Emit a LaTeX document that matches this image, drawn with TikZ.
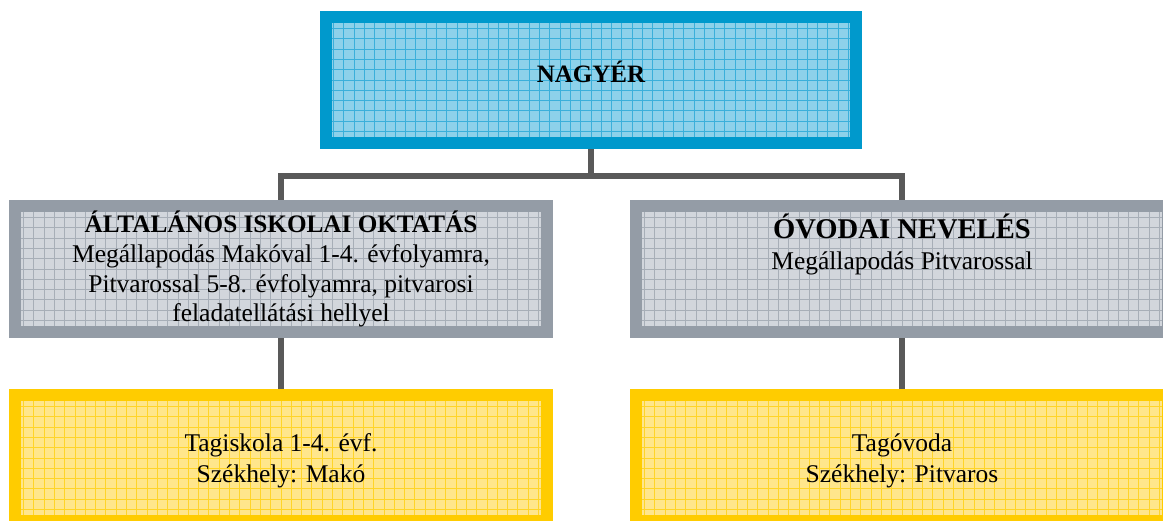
\documentclass[tikz,border=0pt]{standalone}
\usepackage{fontspec}
\setmainfont{Liberation Serif}
\definecolor{bluebd}{HTML}{0099CC}
\definecolor{bluefill}{HTML}{8DD1EA}
\definecolor{bluegrid}{HTML}{3AAFDA}
\definecolor{graybd}{HTML}{949CA6}
\definecolor{grayfill}{HTML}{D2D6DC}
\definecolor{graygrid}{HTML}{A7AEB7}
\definecolor{yelbd}{HTML}{FFCC00}
\definecolor{yelfill}{HTML}{FFE68C}
\definecolor{yelgrid}{HTML}{FFD429}
\definecolor{conn}{HTML}{595959}
\pgfdeclarelayer{background}
\pgfsetlayers{background,main}
\tikzset{
  gridbox/.style n args={3}{draw=#1, fill=#2, line width=12pt, minimum width=532pt, minimum height=126pt, inner sep=0pt,
    path picture={\draw[#3, line width=0.9pt, step=10.3pt] (path picture bounding box.south west) grid (path picture bounding box.north east);}},
  bluebox/.style={gridbox={bluebd}{bluefill}{bluegrid}, minimum width=530pt},
  graybox/.style={gridbox={graybd}{grayfill}{graygrid}},
  yelbox/.style={gridbox={yelbd}{yelfill}{yelgrid}},
  txt/.style={anchor=base, inner sep=0pt, font=\fontsize{25.5}{30}\selectfont},
  connector/.style={conn, line width=6pt},
}
\begin{document}
\begin{tikzpicture}[x=1pt, y=-1pt]
\useasboundingbox (0,0) rectangle (1163,520);
\clip (0,0) rectangle (1163,520);
\node[bluebox] (top) at (591,80) {};
\node[graybox] (gl) at (281,269) {};
\node[graybox] (gr) at (902,269) {};
\node[yelbox] (yl) at (281,458) {};
\node[yelbox] (yr) at (902,458) {};
\coordinate (hj) at (591,176);
\begin{pgfonlayer}{background}
\draw[connector] (top.center) -- (hj);
\draw[connector] (gl.center) |- (hj) -| (gr.center);
\draw[connector] (gl.center) -- (yl.center);
\draw[connector] (gr.center) -- (yr.center);
\end{pgfonlayer}
% texts
\node[txt, font=\fontsize{25}{30}\selectfont\bfseries] (t0) at (591,82) {NAGYÉR};
\node[txt, font=\fontsize{25.2}{30}\selectfont\bfseries] (t1) at (281,232) {ÁLTALÁNOS ISKOLAI OKTATÁS};
\node[txt] (t2) at (281,262) {Megállapodás Makóval 1-4. évfolyamra,};
\node[txt] (t3) at (281,292) {Pitvarossal 5-8. évfolyamra, pitvarosi};
\node[txt] (t4) at (281,321) {feladatellátási hellyel};
\node[txt, font=\fontsize{28.6}{32}\selectfont\bfseries] (t5) at (902,238) {ÓVODAI NEVELÉS};
\node[txt] (t6) at (902,269) {Megállapodás Pitvarossal};
\node[txt] (t7) at (281,451) {Tagiskola 1-4. évf.};
\node[txt] (t8) at (281,482) {Székhely: Makó};
\node[txt] (t9) at (902,451) {Tagóvoda};
\node[txt] (t10) at (902,482) {Székhely: Pitvaros};
\end{tikzpicture}
\end{document}
